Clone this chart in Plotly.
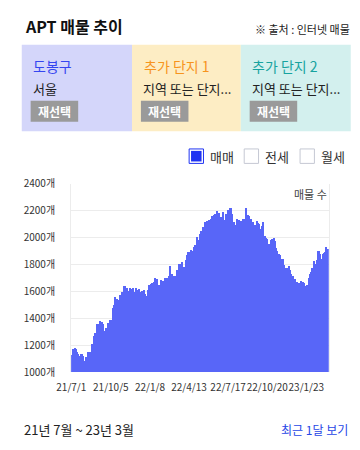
import pandas as pd
import plotly.graph_objects as go

# ---------------- data ----------------
start_date = "2021-07-01"
end_day = 626  # day after the last observation (exclusive)
obs_day = [0,2,8,10,13,17,19,23,29,32,35,38,50,54,58,61,67,72,77,81,85,88,93,97,101,103,106,109,114,119,
           122,126,134,137,141,145,148,153,156,160,164,167,171,174,179,182,185,188,191,196,200,204,207,212,215,
           217,221,225,235,240,244,248,254,261,269,273,277,280,284,288,291,295,298,301,304,308,311,314,318,325,
           329,333,337,342,345,349,353,356,359,363,367,371,374,380,383,391,394,398,401,404,407,410,415,423,425,
           428,432,435,438,441,444,447,450,454,457,459,463,466,469,472,475,478,481,484,487,492,495,498,500,504,
           507,511,517,520,528,531,534,538,542,546,549,552,557,560,563,566,569,572,576,579,582,585,589,593,597,
           600,604,607,610,613,616,619,622]
listings = [1131,1172,1184,1172,1155,1136,1124,1136,1120,1084,1115,1150,1215,1270,1293,1358,1382,1375,1363,1310,
            1334,1370,1393,1390,1477,1501,1560,1548,1541,1572,1601,1639,1625,1606,1625,1618,1627,1601,1627,1613,
            1620,1601,1608,1613,1584,1565,1615,1648,1656,1668,1670,1703,1691,1648,1620,1684,1680,1699,1720,1792,
            1734,1715,1763,1804,1820,1787,1839,1870,1892,1887,1911,1906,1930,1949,2006,1982,2030,2049,2077,2115,
            2125,2132,2140,2163,2168,2178,2197,2163,2187,2156,2192,2132,2178,2204,2220,2180,2120,2092,2140,2125,
            2132,2125,2140,2168,2220,2173,2161,2140,2108,2115,2096,2092,2125,2108,2101,2068,2089,2120,2013,2001,
            1989,1947,1954,1982,1989,1996,1977,1925,1906,1882,1870,1842,1799,1775,1792,1763,1734,1720,1696,1675,
            1672,1663,1677,1661,1675,1668,1644,1648,1703,1734,1749,1775,1827,1806,1835,1899,1882,1844,1882,1887,
            1894,1935,1916]
tick_dates = ["2021-07-01", "2021-10-05", "2022-01-08", "2022-04-13", "2022-07-17", "2022-10-20", "2023-01-23"]
tick_labels = ["21/7/1", "21/10/5", "22/1/8", "22/4/13", "22/7/17", "22/10/20", "23/1/23"]
y_ticks = [1000, 1200, 1400, 1600, 1800, 2000, 2200, 2400]
y_tick_labels = ["1000개", "1200개", "1400개", "1600개", "1800개", "2000개", "2200개", "2400개"]

cards = [
    {"title": "도봉구", "sub": "서울", "title_color": "#3445F0", "bg": "#D4D6FA"},
    {"title": "추가 단지 1", "sub": "지역 또는 단지...", "title_color": "#F7941D", "bg": "#FDEDC4"},
    {"title": "추가 단지 2", "sub": "지역 또는 단지...", "title_color": "#17A39F", "bg": "#D3F0EE"},
]
legend_items = ["매매", "전세", "월세"]

# ---------------- helpers ----------------
# The page keeps the browser's default 8px body margin, so the figure is sized
# to fill the 360x450 window exactly inside it; page pixel coords are mapped below.
PAGE_MARGIN = 8
W, H = 360 - 2 * PAGE_MARGIN, 450 - 2 * PAGE_MARGIN
FONT = "Noto Sans CJK KR"
BAR = "#5866F8"


def px(x):
    return (x - PAGE_MARGIN) / W


def py(y):
    return 1 - (y - PAGE_MARGIN) / H


t0 = pd.Timestamp(start_date)
xs = [t0 + pd.Timedelta(days=d) for d in obs_day]
nexts = obs_day[1:] + [end_day]
widths = [(n - d) * 86400000 for d, n in zip(obs_day, nexts)]

fig = go.Figure()
fig.add_trace(go.Bar(
    x=xs, y=listings, width=widths, offset=0,
    marker=dict(color=BAR, line=dict(width=0)),
    hoverinfo="skip", showlegend=False,
))

plot_l, plot_r, plot_t, plot_b = 58.3, 327.7, 181.0, 376.7

fig.update_layout(
    width=W, height=H, autosize=False,
    margin=dict(l=0, r=0, t=0, b=0),
    paper_bgcolor="white", plot_bgcolor="white",
    bargap=0, showlegend=False,
    font=dict(family=FONT, color="#333"),
    xaxis=dict(
        domain=[px(plot_l), px(plot_r)],
        type="date",
        range=[t0, t0 + pd.Timedelta(days=end_day)],
        tickvals=[pd.Timestamp(d) + pd.Timedelta(hours=12) for d in tick_dates],
        ticktext=tick_labels,
        tickangle=0,
        tickfont=dict(size=10, color="#333", family=FONT),
        ticks="outside", ticklen=6, tickcolor="rgba(0,0,0,0)",
        showgrid=False, zeroline=False, showline=False, fixedrange=True,
    ),
    yaxis=dict(
        domain=[py(plot_b), py(plot_t)],
        range=[1000, 2400],
        tickvals=y_ticks,
        ticktext=y_tick_labels,
        tickfont=dict(size=10, color="#333", family=FONT),
        ticks="outside", ticklen=13, tickcolor="rgba(0,0,0,0)",
        showgrid=True, gridcolor="#ECECEC", gridwidth=1,
        showline=True, linecolor="#ECECEC", linewidth=1, mirror=True,
        zeroline=False, fixedrange=True,
    ),
)

shapes = []
annotations = []

# header
annotations.append(dict(x=px(7.5), y=py(17), xref="paper", yref="paper", xanchor="left", yanchor="middle",
                        text="<b>APT 매물 추이</b>", showarrow=False,
                        font=dict(size=16, color="#111", family=FONT)))
annotations.append(dict(x=px(352), y=py(20.5), xref="paper", yref="paper", xanchor="right", yanchor="middle",
                        text="※ 출처 : 인터넷 매물", showarrow=False,
                        font=dict(size=11, color="#222", family=FONT)))

# cards
card_x = [(6.7, 122.0), (122.0, 235.7), (235.7, 350.7)]
for (x0, x1), c in zip(card_x, cards):
    shapes.append(dict(type="rect", xref="paper", yref="paper", x0=px(x0), x1=px(x1), y0=py(126.7), y1=py(36.7),
                       fillcolor=c["bg"], line=dict(width=0), layer="below"))
    annotations.append(dict(x=px(x0 + 10), y=py(58.5), xref="paper", yref="paper", xanchor="left", yanchor="middle",
                            text=c["title"], showarrow=False,
                            font=dict(size=14, color=c["title_color"], family=FONT)))
    annotations.append(dict(x=px(x0 + 9.5), y=py(82.5), xref="paper", yref="paper", xanchor="left", yanchor="middle",
                            text=c["sub"], showarrow=False,
                            font=dict(size=13, color="#222", family=FONT)))
    shapes.append(dict(type="rect", xref="paper", yref="paper", x0=px(x0 + 9.3), x1=px(x0 + 59), y0=py(116.7), y1=py(95),
                       fillcolor="#9A9A9A", line=dict(width=0)))
    annotations.append(dict(x=px(x0 + 34.2), y=py(106), xref="paper", yref="paper", xanchor="center", yanchor="middle",
                            text="<b>재선택</b>", showarrow=False,
                            font=dict(size=12, color="white", family=FONT)))

# legend checkboxes
box_x = [181.7, 239.3, 297.7]
for i, (bx, lab) in enumerate(zip(box_x, legend_items)):
    if i == 0:
        shapes.append(dict(type="rect", xref="paper", yref="paper", x0=px(bx), x1=px(bx + 15), y0=py(160), y1=py(145),
                           fillcolor="white", line=dict(width=1, color="#1F33F2")))
        shapes.append(dict(type="rect", xref="paper", yref="paper", x0=px(bx + 2), x1=px(bx + 13), y0=py(158), y1=py(147),
                           fillcolor="#1F33F2", line=dict(width=0)))
    else:
        shapes.append(dict(type="rect", xref="paper", yref="paper", x0=px(bx), x1=px(bx + 15), y0=py(160), y1=py(145),
                           fillcolor="white", line=dict(width=1, color="#C5C8D3")))
    annotations.append(dict(x=px(bx + 20), y=py(152.5), xref="paper", yref="paper", xanchor="left", yanchor="middle",
                            text=lab, showarrow=False, font=dict(size=13, color="#333", family=FONT)))

# axis title inside plot
annotations.append(dict(x=px(328), y=py(192), xref="paper", yref="paper", xanchor="right", yanchor="middle",
                        text="매물 수", showarrow=False, font=dict(size=11, color="#444", family=FONT)))

# footer
annotations.append(dict(x=px(7), y=py(436.5), xref="paper", yref="paper", xanchor="left", yanchor="middle",
                        text="21년 7월 ~ 23년 3월", showarrow=False,
                        font=dict(size=13, color="#222", family=FONT)))
annotations.append(dict(x=px(350), y=py(436.5), xref="paper", yref="paper", xanchor="right", yanchor="middle",
                        text="최근 1달 보기", showarrow=False,
                        font=dict(size=12, color="#2747E6", family=FONT)))

fig.update_layout(shapes=shapes, annotations=annotations)

fig.write_html("out.html", config={"displayModeBar": False})
